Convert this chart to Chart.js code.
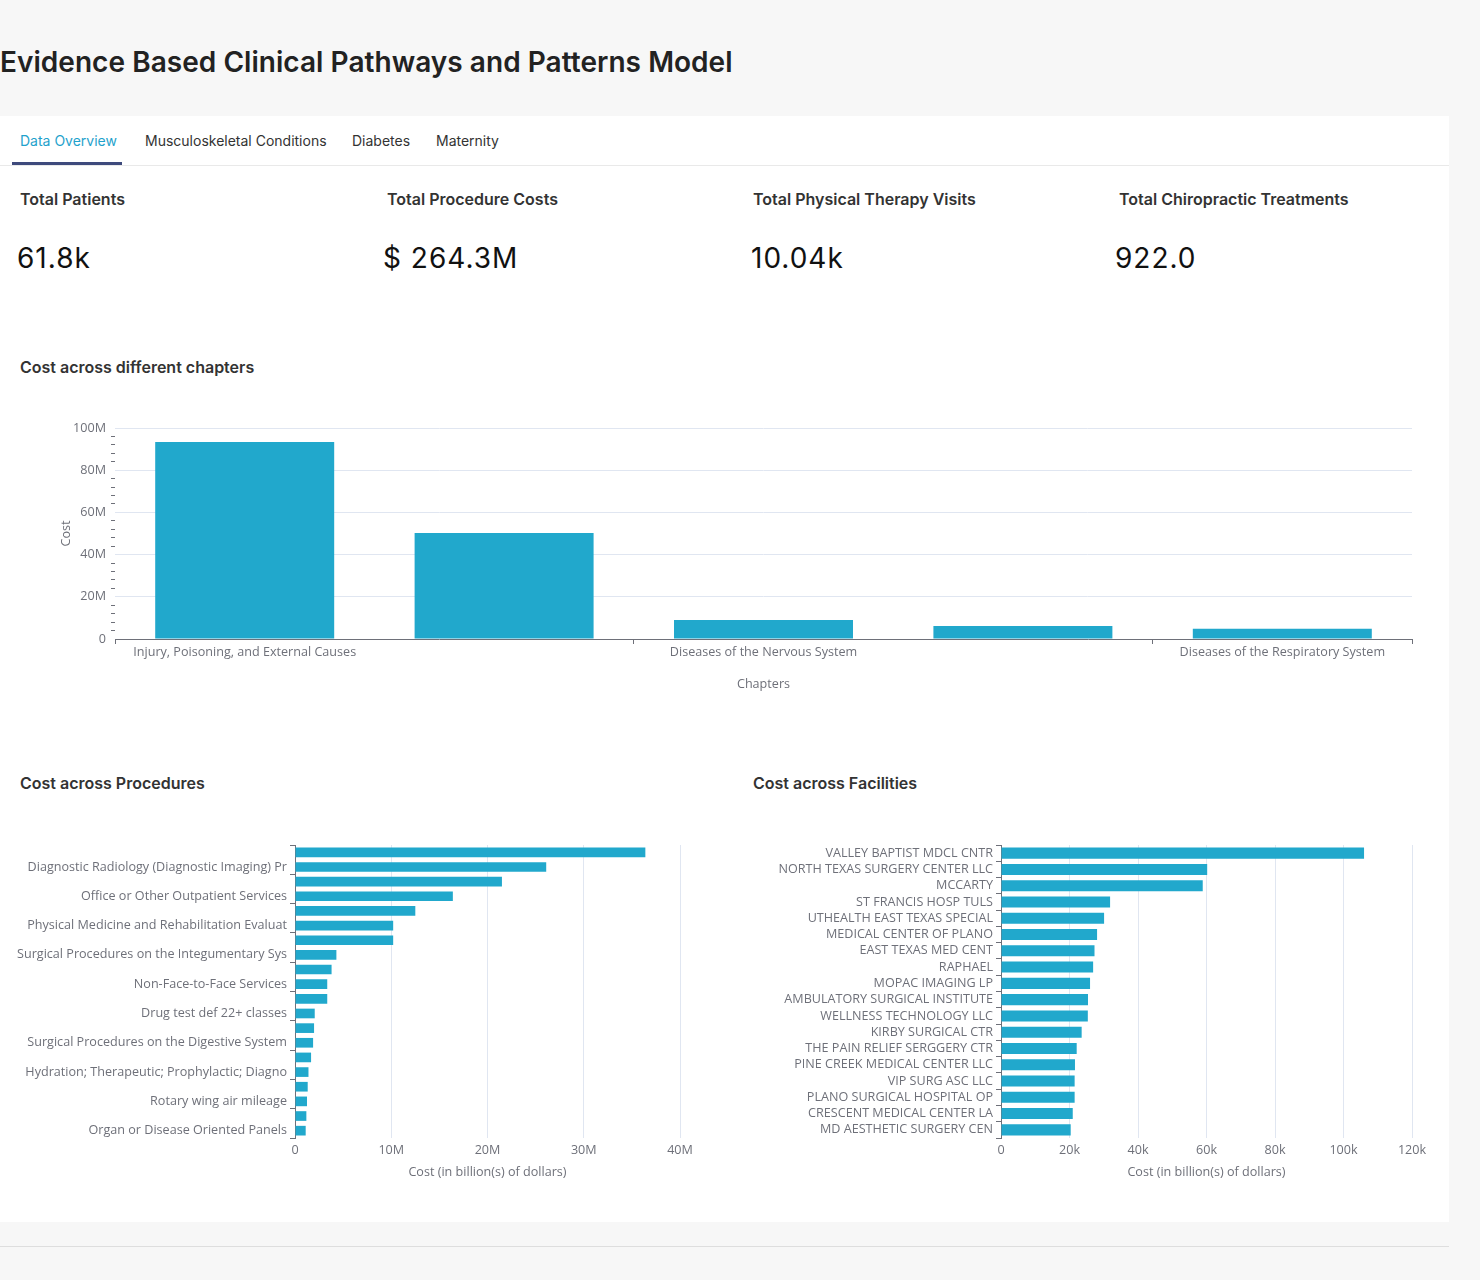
<!DOCTYPE html>
<html>
<head>
<meta charset="utf-8">
<title>Evidence Based Clinical Pathways and Patterns Model</title>
<script src="https://cdn.jsdelivr.net/npm/chart.js@4.4.1/dist/chart.umd.min.js"></script>
<style>
    html, body { margin: 0; padding: 0; }
    body {
        width: 1480px; height: 1280px; position: relative; overflow: hidden;
        background: #f7f7f7; font-family: Inter, 'Noto Sans', sans-serif; color: #333;
    }
    .title { position: absolute; left: 0; top: 42px; font-size: 28px; font-weight: 600; color: #222; line-height: 40px; white-space: nowrap; letter-spacing: 0.04px; }
    .card { position: absolute; left: 0; top: 116px; width: 1449px; height: 1106px; background: #fff; }
    .tabs { position: absolute; left: 0; top: 116px; width: 1449px; height: 49px; border-bottom: 1px solid #e9e9e9; }
    .tab { position: absolute; top: 15px; font-size: 14px; line-height: 20px; color: #333; white-space: nowrap; }
    .tab.active { color: #1fa2cc; }
    .underline { position: absolute; left: 12px; top: 46px; width: 110px; height: 3px; background: #3e4a7c; }
    .kpi-label { position: absolute; top: 189px; font-size: 16px; font-weight: 600; color: #333; line-height: 20px; white-space: nowrap; }
    .kpi-value { position: absolute; top: 241px; font-size: 28px; font-weight: 400; color: #111; line-height: 34px; white-space: nowrap; letter-spacing: 1px; }
    .section { position: absolute; font-size: 16px; font-weight: 600; color: #333; line-height: 20px; white-space: nowrap; }
    .box { position: absolute; }
    .foot { position: absolute; left: 0; top: 1246px; width: 1449px; height: 1px; background: #dedede; }
</style>
</head>
<body>
<div class="title">Evidence Based Clinical Pathways and Patterns Model</div>
<div class="card"></div>
<div class="tabs">
    <span class="tab active" style="left:20px">Data Overview</span>
    <span class="tab" style="left:145px">Musculoskeletal Conditions</span>
    <span class="tab" style="left:352px">Diabetes</span>
    <span class="tab" style="left:436px">Maternity</span>
    <div class="underline"></div>
</div>

<div class="kpi-label" style="left:20px">Total Patients</div>
<div class="kpi-label" style="left:387px">Total Procedure Costs</div>
<div class="kpi-label" style="left:753px">Total Physical Therapy Visits</div>
<div class="kpi-label" style="left:1119px">Total Chiropractic Treatments</div>
<div class="kpi-value" style="left:17px">61.8k</div>
<div class="kpi-value" style="left:383px">$ 264.3M</div>
<div class="kpi-value" style="left:751px">10.04k</div>
<div class="kpi-value" style="left:1115px">922.0</div>

<div class="section" style="left:20px;top:357px">Cost across different chapters</div>
<div class="box" style="left:20px;top:400px;width:1420px;height:300px"><canvas id="chapterChart"></canvas></div>

<div class="section" style="left:20px;top:773px">Cost across Procedures</div>
<div class="box" style="left:0px;top:830px;width:720px;height:356px"><canvas id="procedureChart"></canvas></div>

<div class="section" style="left:753px;top:773px">Cost across Facilities</div>
<div class="box" style="left:753px;top:830px;width:697px;height:356px"><canvas id="facilityChart"></canvas></div>

<div class="foot"></div>

<script>
// chart data
const chapterLabels = ['Injury, Poisoning, and External Causes', '', 'Diseases of the Nervous System', '', 'Diseases of the Respiratory System'];
const chapterCost = [93.4e6, 50.2e6, 9.0e6, 6.2e6, 4.8e6];

// only every second procedure is labelled in the source
const procedureLabels = [
    '', 'Diagnostic Radiology (Diagnostic Imaging) Pr',
    '', 'Office or Other Outpatient Services',
    '', 'Physical Medicine and Rehabilitation Evaluat',
    '', 'Surgical Procedures on the Integumentary Sys',
    '', 'Non-Face-to-Face Services',
    '', 'Drug test def 22+ classes',
    '', 'Surgical Procedures on the Digestive System',
    '', 'Hydration; Therapeutic; Prophylactic; Diagno',
    '', 'Rotary wing air mileage',
    '', 'Organ or Disease Oriented Panels'
];
const procedureCost = [36.4e6, 26.1e6, 21.5e6, 16.4e6, 12.5e6, 10.2e6, 10.2e6, 4.3e6, 3.8e6, 3.35e6,
    3.35e6, 2.05e6, 1.98e6, 1.88e6, 1.67e6, 1.4e6, 1.32e6, 1.25e6, 1.18e6, 1.11e6];
const procedureTicks = [0, 10e6, 20e6, 30e6, 40e6];

const facilityLabels = [
    'VALLEY BAPTIST MDCL CNTR', 'NORTH TEXAS SURGERY CENTER LLC', 'MCCARTY', 'ST FRANCIS HOSP TULS',
    'UTHEALTH EAST TEXAS SPECIAL', 'MEDICAL CENTER OF PLANO', 'EAST TEXAS MED CENT', 'RAPHAEL',
    'MOPAC IMAGING LP', 'AMBULATORY SURGICAL INSTITUTE', 'WELLNESS TECHNOLOGY LLC', 'KIRBY SURGICAL CTR',
    'THE PAIN RELIEF SERGGERY CTR', 'PINE CREEK MEDICAL CENTER LLC', 'VIP SURG ASC LLC', 'PLANO SURGICAL HOSPITAL OP',
    'CRESCENT MEDICAL CENTER LA', 'MD AESTHETIC SURGERY CEN'
];
const facilityCost = [106000, 60200, 58900, 31850, 30100, 28050, 27300, 26900, 26000, 25400,
    25350, 23550, 22100, 21600, 21500, 21500, 20950, 20350];
const facilityTicks = [0, 20000, 40000, 60000, 80000, 100000, 120000];

const BAR = '#21a8cc';
const AXIS = '#6e7079';
const GRID = '#e0e6f1';

Chart.defaults.font = { family: "'Open Sans', sans-serif", size: 12.6 };
Chart.defaults.color = AXIS;
Chart.defaults.animation = false;

function fmtM(v) { return v === 0 ? '0' : (v / 1e6) + 'M'; }
function fmtK(v) { return v === 0 ? '0' : (v / 1000) + 'k'; }

function fixedTicks(list) {
    return function (scale) { scale.ticks = list.map(v => ({ value: v })); };
}

const isMajor = ctx => ctx.tick && ctx.tick.value % 20e6 === 0;

// Chapters - vertical bars
new Chart(document.getElementById('chapterChart'), {
    type: 'bar',
    data: {
        labels: chapterLabels,
        datasets: [{ data: chapterCost, backgroundColor: BAR, barPercentage: 0.69, categoryPercentage: 1 }]
    },
    options: {
        responsive: true,
        maintainAspectRatio: false,
        layout: { padding: { top: 28, right: 28, bottom: 0, left: 0 } },
        plugins: { legend: { display: false }, tooltip: { enabled: false } },
        scales: {
            x: {
                grid: {
                    offset: true, drawOnChartArea: false, tickLength: 5,
                    tickColor: ctx => (ctx.index === undefined || ctx.index % 2 === 0) ? AXIS : 'transparent'
                },
                border: { color: AXIS },
                ticks: { autoSkip: false, maxRotation: 0, padding: 1 },
                title: { display: true, text: 'Chapters', padding: { top: 0, bottom: 8 } },
                afterFit: s => { s.height = 61; }
            },
            y: {
                min: 0, max: 100e6,
                border: { display: false },
                grid: {
                    color: ctx => isMajor(ctx) ? GRID : 'transparent',
                    tickColor: ctx => isMajor(ctx) ? 'transparent' : AXIS,
                    tickLength: 4
                },
                ticks: {
                    stepSize: 4e6, autoSkip: false, padding: 5,
                    callback: v => v % 20e6 === 0 ? fmtM(v) : ''
                },
                title: { display: true, text: 'Cost', padding: { top: 39, bottom: 0 } },
                afterFit: s => { s.width = 95; }
            }
        }
    }
});

function hbarOptions(labelsEvery, xTicks, fmt, yWidth, xMax, rightPad) {
    return {
        indexAxis: 'y',
        responsive: true,
        maintainAspectRatio: false,
        layout: { padding: { top: 15, right: rightPad, bottom: 0, left: 0 } },
        plugins: { legend: { display: false }, tooltip: { enabled: false } },
        scales: {
            x: {
                min: 0, max: xMax,
                border: { display: false },
                grid: { color: GRID, drawTicks: false },
                ticks: { padding: 5, callback: v => fmt(v) },
                afterBuildTicks: fixedTicks(xTicks),
                title: { display: true, text: 'Cost (in billion(s) of dollars)', padding: { top: 0, bottom: 6 } },
                afterFit: s => { s.height = 48; }
            },
            y: {
                border: { color: AXIS },
                grid: {
                    offset: true, drawOnChartArea: false, tickLength: 5,
                    tickColor: ctx => (ctx.index === undefined || ctx.index % labelsEvery === 0) ? AXIS : 'transparent'
                },
                ticks: { autoSkip: false, padding: 3 },
                afterFit: s => { s.width = yWidth; }
            }
        }
    };
}

// Procedures - horizontal bars
new Chart(document.getElementById('procedureChart'), {
    type: 'bar',
    data: {
        labels: procedureLabels,
        datasets: [{ data: procedureCost, backgroundColor: BAR, barPercentage: 0.66, categoryPercentage: 1 }]
    },
    options: hbarOptions(2, procedureTicks, fmtM, 295, 40e6, 40)
});

// Facilities - horizontal bars
new Chart(document.getElementById('facilityChart'), {
    type: 'bar',
    data: {
        labels: facilityLabels,
        datasets: [{ data: facilityCost, backgroundColor: BAR, barPercentage: 0.68, categoryPercentage: 1 }]
    },
    options: hbarOptions(1, facilityTicks, fmtK, 248, 120000, 38)
});
</script>
</body>
</html>
